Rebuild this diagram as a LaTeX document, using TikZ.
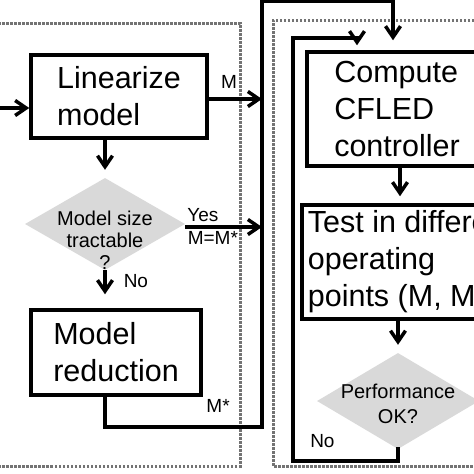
\documentclass[tikz,border=0pt]{standalone}
\usepackage{fontspec}
\setmainfont{Liberation Sans}
\usetikzlibrary{arrows.meta}
\usetikzlibrary{positioning}
\usetikzlibrary{shapes.geometric}
\usetikzlibrary{calc}
\tikzset{%
    block/.style={draw, line width=3.5pt, align=left, inner sep=0pt, font={\fontsize{30.5}{37}\selectfont}},
    decision/.style={diamond, fill=black!15, inner sep=0pt},
    dtext/.style={align=center, font={\fontsize{20}{22}\selectfont}},
    flow/.style={line width=3.5pt, -{Straight Barb[length=11pt,width=15pt]}},
    wire/.style={line width=3.5pt, line cap=rect},
    tag/.style={inner sep=0pt, font={\fontsize{19}{20}\selectfont}},
    stage/.style={draw=black!55, line width=3pt, dash pattern=on 2.5pt off 1.5pt},
}
\begin{document}
\begin{tikzpicture}[x=1pt,y=-1pt]
\useasboundingbox (0,0) rectangle (474,474);
\clip (0,0) rectangle (474,474);
\fill[white] (0,0) rectangle (474,474);
% dotted stage frames
\draw[stage] (-10,23) -- (240,23) -- (240,466) -- (-10,466);
\draw[stage] (490,20) -- (273,20) -- (273,466) -- (490,466);
% blocks
\node[block, minimum width=176pt, minimum height=83pt] (lin) at (119,96.5) {Linearize\\model};
\node[decision, minimum width=160pt, minimum height=92pt,
      label={[dtext, yshift=-16pt]center:Model size\\tractable\\?}] (tract) at (105,224) {};
\node[block, minimum width=170pt, minimum height=85pt] (red) at (116,352.5) {Model\\reduction};
\node[block, minimum width=180pt, minimum height=114pt] (cfled) at (397,109) {Compute\\CFLED\\controller};
\node[block, minimum width=218pt, minimum height=114pt] (test) at (411,262) {Test in different\\operating\\points (M, M*)};
\node[decision, minimum width=162pt, minimum height=96pt,
      label={[dtext, font={\fontsize{20}{25}\selectfont}, yshift=-3pt]center:Performance\\OK?}] (perf) at (398,401) {};
% free ends
\coordinate (src) at (0,108);
\coordinate (bustop) at (262,1);
\coordinate (busbot) at (262,427);
\coordinate (feedtop) at (293,38);
\coordinate (feedbot) at (293,461);
% connectors
\draw[flow] (src) -- (src -| lin.west);
\draw[flow] ([yshift=-2.5pt]lin.east) coordinate (m) -- node[tag, pos=0.38, above=9pt] {M} (m -| bustop);
\draw[flow] (tract |- lin.south) -- ([yshift=8pt]tract.north);
\draw[flow] ([yshift=-3pt]tract.east) coordinate (y) -- node[tag, pos=0.23, above=4pt] {Yes}
    node[tag, pos=0.36, below=3pt] {M=M*} (y -| bustop);
\draw[flow] (tract.south) -- node[tag, pos=0.45, right=17pt] {No} ([yshift=14pt]red.north -| tract.south);
\draw[wire] (red.south -| tract) |- node[tag, pos=0.86, above=13pt] {M*} (busbot);
\draw[flow, line cap=rect] (busbot) -- (bustop) -| ([xshift=-4pt,yshift=10pt]cfled.north);
\draw[flow] ([xshift=3pt]cfled.south) -- ([xshift=3pt,yshift=7pt]test.north -| cfled.south);
\draw[flow] (test.south -| perf) -- ([yshift=8pt]perf.north);
\draw[flow, line cap=rect] (perf.south) |- node[tag, pos=0.86, above=12pt] {No} (feedbot)
    -- (feedtop) -| ([xshift=-40pt,yshift=5pt]cfled.north);
\end{tikzpicture}
\end{document}
